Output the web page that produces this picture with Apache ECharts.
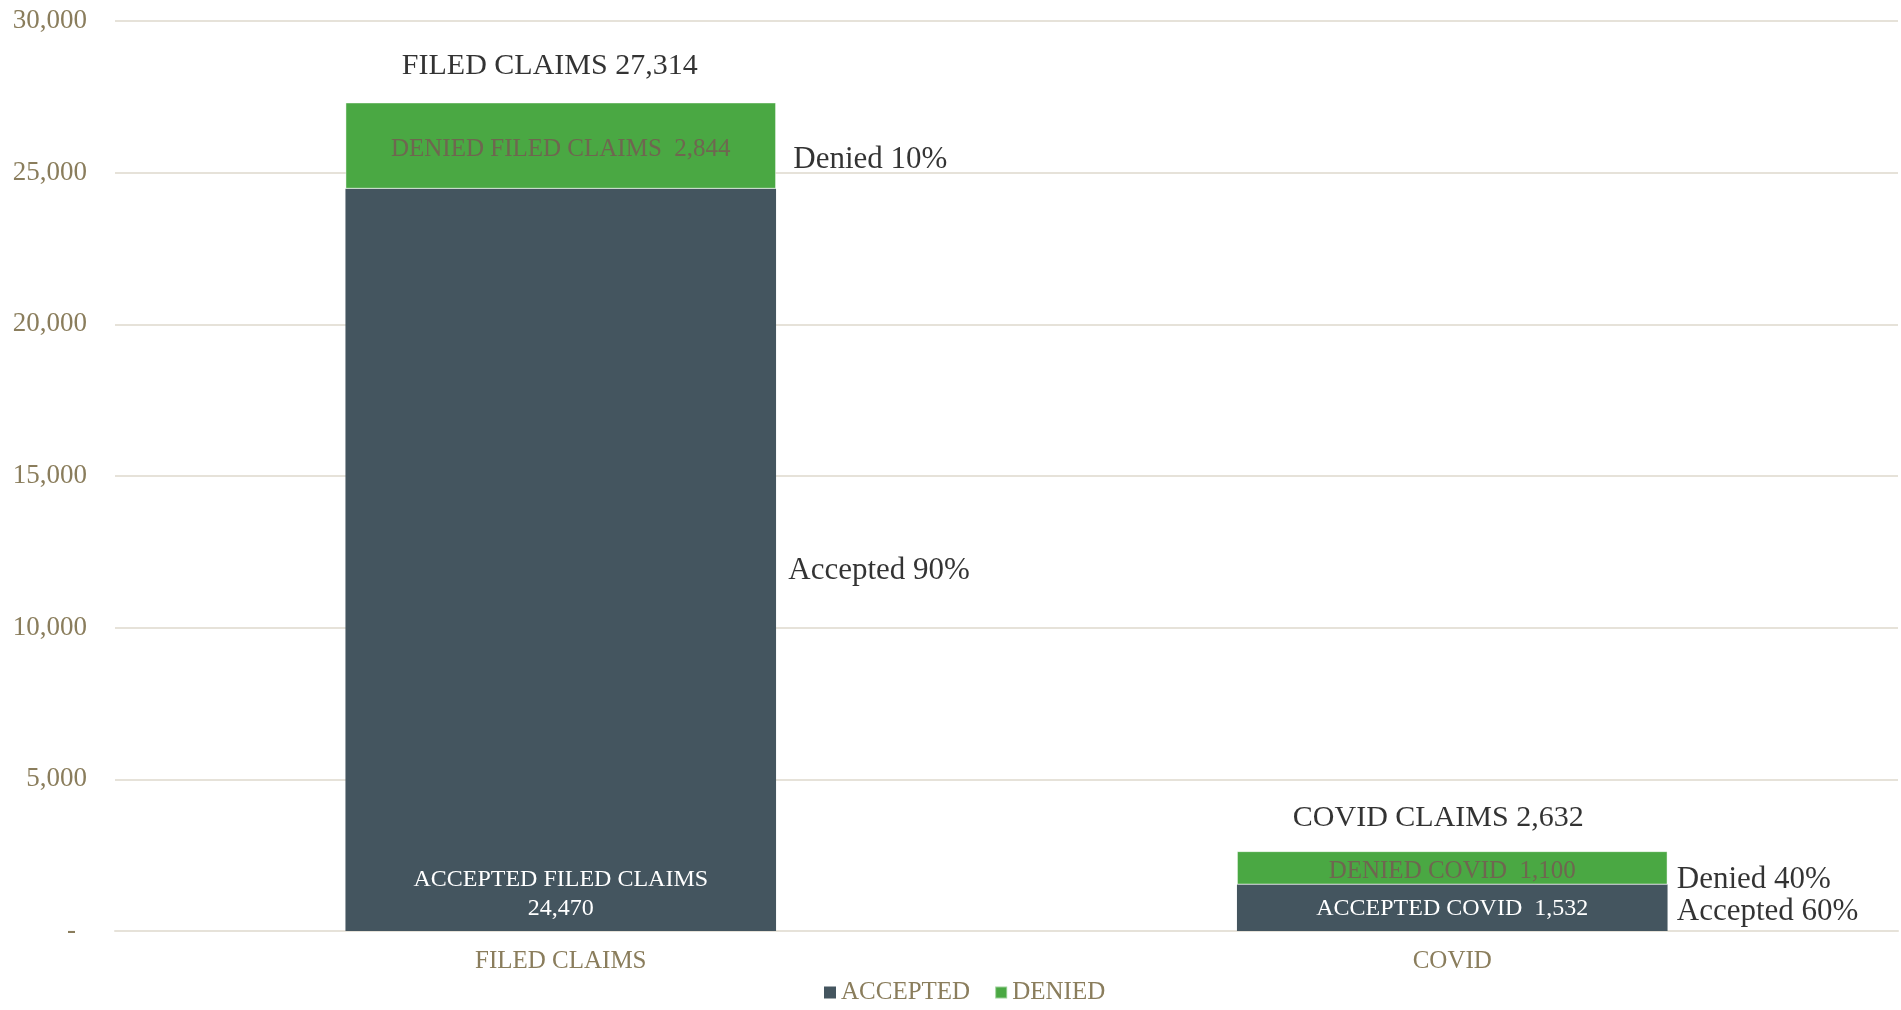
<!DOCTYPE html>
<html>
<head>
<meta charset="utf-8">
<script src="https://cdn.jsdelivr.net/npm/echarts@6/dist/echarts.min.js"></script>
<style>
  html, body { margin: 0; padding: 0; background: #fff; }
  #chart { width: 1901px; height: 1010px; }
</style>
</head>
<body>
<div id="chart"></div>
<script>
// data
const categories = ['FILED CLAIMS', 'COVID']
const accepted = [24470, 1532]
const denied = [2844, 1100]
const totalNames = ['FILED CLAIMS', 'COVID CLAIMS']
const acceptedNames = ['ACCEPTED FILED CLAIMS', 'ACCEPTED COVID']
const deniedNames = ['DENIED FILED CLAIMS', 'DENIED COVID']
const acceptedPct = ['90%', '60%']
const deniedPct = ['10%', '40%']
const yMax = 30000
const yStep = 5000

const totals = accepted.map((v, i) => v + denied[i])
const fmt = v => v.toLocaleString('en-US')

const FONT = '"Liberation Serif", "DejaVu Serif", serif'
const TAN = '#8a7d5c'
const DARK = '#44555f'
const GREEN = '#4aa843'
const GRID = '#e6e2d9'

const chart = echarts.init(document.getElementById('chart'))

const option = {
  animation: false,
  textStyle: { fontFamily: FONT },
  grid: { left: 115, right: 3, top: 21, bottom: 79, containLabel: false },
  legend: {
    data: ['ACCEPTED', 'DENIED'],
    bottom: 5,
    left: 824,
    padding: 0,
    itemWidth: 12,
    itemHeight: 12,
    itemGap: 24,
    icon: 'rect',
    textStyle: { color: TAN, fontSize: 25, fontFamily: FONT, padding: [2, 0, 0, 0] }
  },
  xAxis: {
    type: 'category',
    data: categories,
    axisLine: { lineStyle: { color: GRID, width: 2 } },
    axisTick: { show: false },
    axisLabel: { color: TAN, fontSize: 25, fontFamily: FONT, margin: 18 }
  },
  yAxis: {
    type: 'value',
    min: 0,
    max: yMax,
    interval: yStep,
    axisLine: { show: false },
    axisTick: { show: false },
    splitLine: { lineStyle: { color: GRID, width: 2 } },
    axisLabel: {
      color: TAN,
      fontSize: 27,
      fontFamily: FONT,
      margin: 28,
      formatter: v => v === 0 ? '{dash|-}' : fmt(v),
      rich: { dash: { color: TAN, fontSize: 27, fontFamily: FONT, padding: [0, 11, 0, 0] } }
    }
  },
  series: [
    {
      name: 'ACCEPTED',
      type: 'bar',
      stack: 'claims',
      barWidth: '48.3%',
      itemStyle: { color: DARK },
      label: {
        show: true,
        color: '#ffffff',
        fontSize: 24,
        fontFamily: FONT,
        lineHeight: 29,
        formatter: p => p.dataIndex === 0
          ? acceptedNames[0] + '\n' + fmt(p.value)
          : acceptedNames[p.dataIndex] + '  ' + fmt(p.value)
      },
      data: accepted.map((v, i) => ({
        value: v,
        label: i === 0
          ? { position: 'insideBottom', distance: 8 }
          : { position: 'inside', offset: [0, 1] }
      }))
    },
    {
      name: 'DENIED',
      type: 'bar',
      stack: 'claims',
      barWidth: '48.3%',
      itemStyle: { color: GREEN, borderColor: 'rgba(255,255,255,0.45)', borderWidth: 1 },
      label: {
        show: true,
        position: 'inside',
        offset: [0, 4],
        color: '#6f6650',
        fontSize: 25,
        fontFamily: FONT,
        formatter: p => deniedNames[p.dataIndex] + '  ' + fmt(p.value)
      },
      data: denied
    },
    {
      name: 'totals',
      type: 'scatter',
      silent: true,
      symbolSize: 1,
      itemStyle: { color: 'transparent' },
      label: {
        show: true,
        position: 'top',
        distance: 20,
        color: '#000',
        fontSize: 30,
        fontFamily: FONT,
        formatter: p => totalNames[p.dataIndex] + ' ' + fmt(p.value)
      },
      data: totals.map((v, i) => ({
        value: v,
        label: { offset: i === 0 ? [-11, -1] : [-14, 2] }
      }))
    },
    {
      name: 'deniedPct',
      type: 'scatter',
      silent: true,
      symbolSize: 1,
      itemStyle: { color: 'transparent' },
      label: {
        show: true,
        position: 'right',
        distance: 228,
        color: '#000',
        fontSize: 31,
        fontFamily: FONT,
        formatter: p => 'Denied ' + deniedPct[p.dataIndex]
      },
      data: accepted.map((v, i) => ({
        value: v + denied[i] / 2,
        label: { offset: i === 0 ? [4, 14] : [-4, 12] }
      }))
    },
    {
      name: 'acceptedPct',
      type: 'scatter',
      silent: true,
      symbolSize: 1,
      itemStyle: { color: 'transparent' },
      label: {
        show: true,
        position: 'right',
        distance: 224,
        color: '#000',
        fontSize: 31,
        fontFamily: FONT,
        formatter: p => 'Accepted ' + acceptedPct[p.dataIndex]
      },
      data: accepted.map((v, i) => ({
        value: v / 2,
        label: { offset: i === 0 ? [3, 11] : [0, 4] }
      }))
    }
  ]
}

chart.setOption(option)
</script>
</body>
</html>
